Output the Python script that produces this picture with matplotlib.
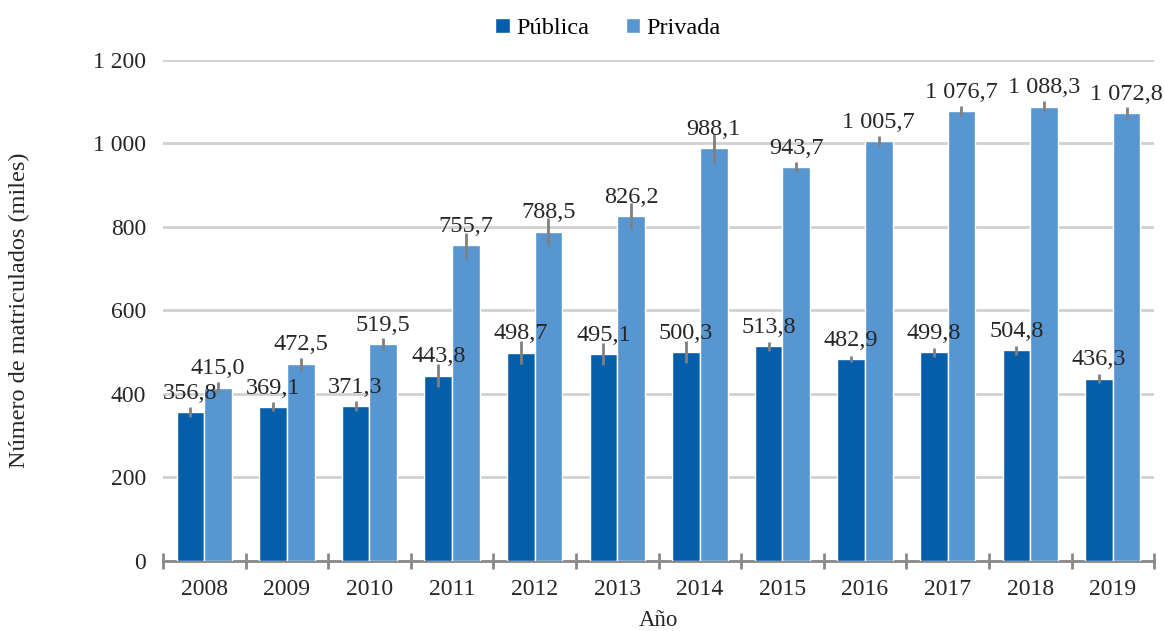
import matplotlib
matplotlib.use('Agg')
import matplotlib.pyplot as plt
import numpy as np
from matplotlib.ticker import FuncFormatter

years = ['2008', '2009', '2010', '2011', '2012', '2013', '2014', '2015', '2016', '2017', '2018', '2019']
publica = [356.8, 369.1, 371.3, 443.8, 498.7, 495.1, 500.3, 513.8, 482.9, 499.8, 504.8, 436.3]
privada = [415.0, 472.5, 519.5, 755.7, 788.5, 826.2, 988.1, 943.7, 1005.7, 1076.7, 1088.3, 1072.8]
publica_err = [12, 11, 13, 28, 28, 26, 26, 10, 7, 11, 11, 11]
privada_err = [13, 14, 14, 31, 33, 32, 34, 12, 11, 12, 14, 14]

plt.rcParams['font.family'] = ['Liberation Serif', 'DejaVu Serif']

def fmt_num(v, decimals=1):
    s = f'{v:,.{decimals}f}'
    return s.replace(',', ' ').replace('.', ',')

fig = plt.figure(figsize=(11.64, 6.31), dpi=100)
ax = fig.add_axes([0.140, 0.111, 0.8515, 0.794])

x = np.arange(len(years))
w = 0.335
err_kw = dict(ecolor='#808080', elinewidth=2, capsize=0)
ax.bar(x - w / 2, publica, w, color='#055EAA', edgecolor='white', linewidth=1,
       yerr=publica_err, error_kw=err_kw, label='Pública', zorder=3)
ax.bar(x + w / 2, privada, w, color='#5796D0', edgecolor='white', linewidth=1,
       yerr=privada_err, error_kw=err_kw, label='Privada', zorder=3)

# value labels above each bar
for xs, vals in ((x - w / 2, publica), (x + w / 2, privada)):
    for xi, v in zip(xs, vals):
        ax.annotate(fmt_num(v), (xi, v), xytext=(0, 6), textcoords='offset points',
                    ha='center', va='bottom', fontsize=17.5, color='#262626', zorder=4)

ax.set_ylim(0, 1200)
ax.set_xlim(-0.5, len(years) - 0.5)
ax.set_yticks(range(0, 1201, 200))
ax.yaxis.set_major_formatter(FuncFormatter(lambda v, p: fmt_num(v, 0)))
ax.grid(axis='y', color='#d0d0d0', linewidth=2, zorder=0)
ax.set_axisbelow(True)

ax.set_xticks(x)
ax.set_xticklabels(years)
ax.set_xticks(np.arange(-0.5, len(years)), minor=True)
ax.tick_params(axis='x', which='major', length=0, labelsize=17, pad=13, labelcolor='#262626')
ax.tick_params(axis='x', which='minor', length=12, width=2, direction='inout', color='#898989')
ax.tick_params(axis='y', length=0, labelsize=17, pad=12, labelcolor='#262626')

for side in ('top', 'right', 'left'):
    ax.spines[side].set_visible(False)
ax.spines['bottom'].set_color('#898989')
ax.spines['bottom'].set_linewidth(2)

ax.set_ylabel('Número de matriculados (miles)', fontsize=17.5, color='#262626')
ax.yaxis.set_label_coords(-0.134, 0.5)
ax.set_xlabel('Año', fontsize=16.5, color='#262626')
ax.xaxis.set_label_coords(0.5, -0.098)

ax.legend(loc='lower center', bbox_to_anchor=(0.449, 1.0), ncol=2, frameon=False, fontsize=17.5,
          handlelength=0.6, handleheight=0.6, handletextpad=0.25, columnspacing=1.5,
          borderaxespad=0.45)

fig.savefig('out.png', dpi=100)
